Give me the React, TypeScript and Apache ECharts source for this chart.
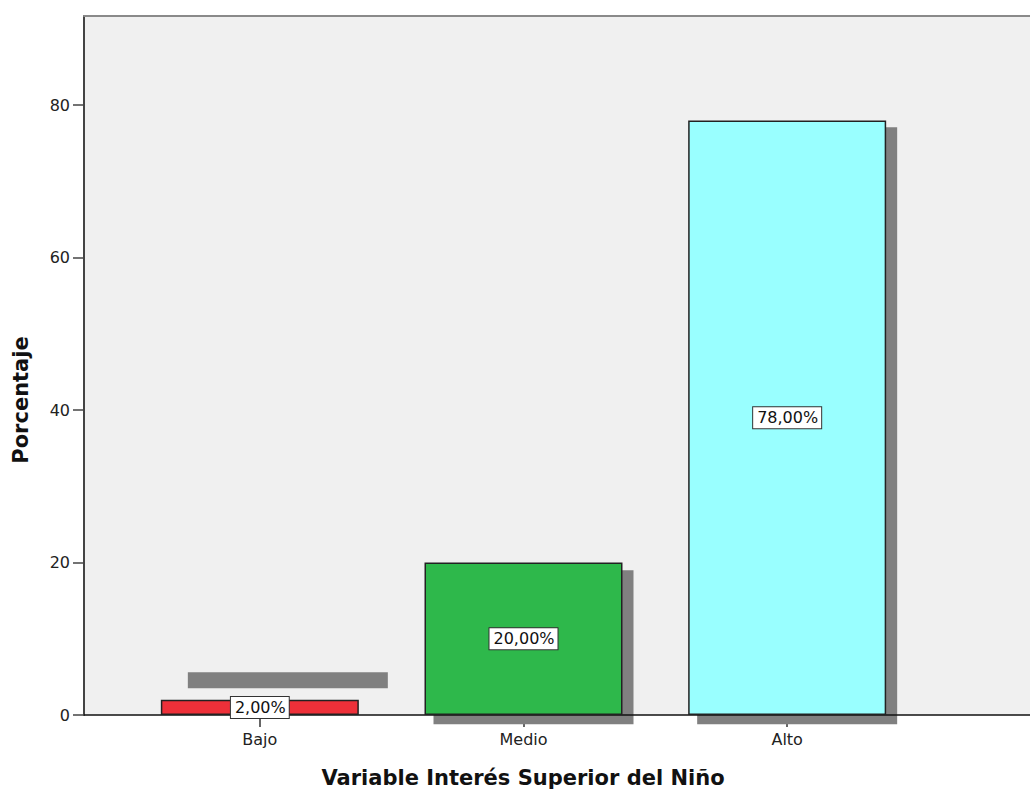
import React, { useEffect, useRef } from "react";
import * as echarts from "echarts";

const categories = ["Bajo", "Medio", "Alto"];
const percentages = [2, 20, 78];
const barColors = ["#EE3039", "#2EB84B", "#99FFFF"];
// shadow extents (in axis value units) as drawn in the original SPSS output
const shadowTop = [5.6, 19.0, 77.1];
const shadowBottom = [3.5, -1.2, -1.2];
const yTickValues = [0, 20, 40, 60, 80];
const yMax = 91.7;

const FONT = "DejaVu Sans";
const SHADOW_SHIFT = [27, 9, 9];
const BAR_W = 198;

export default function App() {
  const ref = useRef<HTMLDivElement>(null);
  useEffect(() => {
    if (!ref.current) return;
    const chart = echarts.init(ref.current, undefined, { renderer: "svg" });
    const option: any = {
      animation: false,
      backgroundColor: "#ffffff",
      textStyle: { fontFamily: FONT },
      grid: [
        { left: 84, right: 0, top: 16, bottom: 79, show: true, backgroundColor: "#f0f0f0", borderWidth: 0 },
        { left: 128, width: 791, top: 16, bottom: 79 },
      ],
      xAxis: [
        {
          gridIndex: 0, type: "value", min: 0, max: 1, z: 2,
          axisLine: { show: true, onZero: false, lineStyle: { color: "#111", width: 1.5 } },
          axisTick: { show: false }, axisLabel: { show: false }, splitLine: { show: false },
        },
        {
          gridIndex: 0, type: "value", min: 0, max: 1, position: "top", z: 2,
          axisLine: { show: true, onZero: false, lineStyle: { color: "#8a8a8a", width: 2 } },
          axisTick: { show: false }, axisLabel: { show: false }, splitLine: { show: false },
        },
        {
          gridIndex: 1, type: "category", data: categories, z: 0,
          axisLine: { show: false },
          axisTick: { show: true, alignWithLabel: true, length: 12, lineStyle: { color: "#333", width: 1.5 } },
          axisLabel: { fontSize: 16, color: "#222", fontFamily: FONT, margin: 16 },
          splitLine: { show: false },
        },
      ],
      yAxis: [
        {
          gridIndex: 0, type: "value", min: 0, max: yMax, z: 2,
          axisLine: { show: true, lineStyle: { color: "#444", width: 2 } },
          axisTick: { show: true, length: 11, customValues: yTickValues, lineStyle: { color: "#444", width: 1.5 } },
          axisLabel: { customValues: yTickValues, fontSize: 16, color: "#222", fontFamily: FONT, margin: 14 },
          splitLine: { show: false },
        },
        { gridIndex: 1, type: "value", min: 0, max: yMax, show: false },
      ],
      series: [
        {
          type: "custom",
          xAxisIndex: 2, yAxisIndex: 1, z: 1, clip: false,
          data: categories.map((_, i) => [i, shadowBottom[i], shadowTop[i]]),
          encode: { x: 0, y: 2 },
          renderItem: (params: any, api: any) => {
            const i = api.value(0);
            const top = api.coord([i, api.value(2)]);
            const bot = api.coord([i, api.value(1)]);
            const w = 200;
            return {
              type: "rect",
              shape: { x: top[0] - BAR_W / 2 + SHADOW_SHIFT[i], y: top[1], width: w, height: bot[1] - top[1] },
              style: { fill: "#808080" },
            };
          },
        },
        {
          type: "bar",
          xAxisIndex: 2, yAxisIndex: 1, z: 3,
          barWidth: BAR_W,
          data: percentages.map((v, i) => ({ value: v, itemStyle: { color: barColors[i] } })),
          itemStyle: { borderColor: "#222", borderWidth: 1.5 },
          label: {
            show: true,
            position: "inside",
            formatter: (p: any) => p.value.toFixed(2).replace(".", ",") + "%",
            backgroundColor: "#ffffff",
            borderColor: "#333",
            borderWidth: 1,
            padding: [3, 3, 2, 4],
            fontSize: 16,
            color: "#111",
            fontFamily: FONT,
          },
        },
      ],
      graphic: [
        {
          type: "text", x: 523, y: 778,
          style: { text: "Variable Interés Superior del Niño", fontFamily: FONT, fontWeight: "bold", fontSize: 21, fill: "#111", align: "center", verticalAlign: "middle" },
        },
        {
          type: "text", x: 21, y: 400, rotation: Math.PI / 2,
          style: { text: "Porcentaje", fontFamily: FONT, fontWeight: "bold", fontSize: 21, fill: "#111", align: "center", verticalAlign: "middle" },
        },
      ],
    };
    chart.setOption(option);
    return () => chart.dispose();
  }, []);
  return <div ref={ref} style={{ position: "fixed", left: 0, top: 0, width: 1030, height: 794 }} />;
}
